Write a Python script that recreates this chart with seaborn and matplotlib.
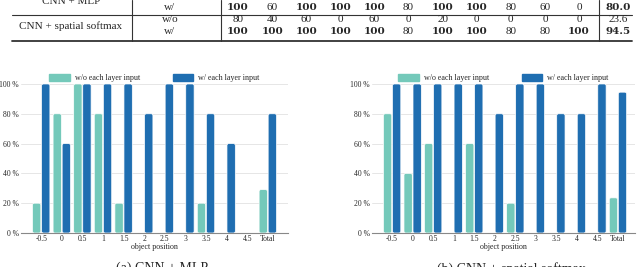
import matplotlib
matplotlib.use("Agg")
import matplotlib.pyplot as plt
import pandas as pd
import seaborn as sns
from matplotlib.lines import Line2D
from matplotlib.patches import FancyBboxPatch

# valores
posiciones = ['-0.5', '0', '0.5', '1', '1.5', '2', '2.5', '3', '3.5', '4', '4.5', 'Total']
mlp_sin = [20, 80, 100, 80, 20, 0, 0, 0, 20, 0, 0, 29.1]
mlp_con = [100, 60, 100, 100, 100, 80, 100, 100, 80, 60, 0, 80.0]
ss_sin = [80, 40, 60, 0, 60, 0, 20, 0, 0, 0, 0, 23.6]
ss_con = [100, 100, 100, 100, 100, 80, 100, 100, 80, 80, 100, 94.5]
series = ['w/o each layer input', 'w/ each layer input']
colores = ['#74c9ba', '#1f6eb1']
titulos = ['(a) CNN + MLP', '(b) CNN + spatial softmax']

sns.set_style("white")
plt.rcParams['font.family'] = ['Liberation Serif', 'DejaVu Serif']

W, H = 640, 267
fig = plt.figure(figsize=(6.4, 2.67), dpi=100)


def fx(x):
    return x / W


def fy(y):
    return 1 - y / H


""" Tabla de arriba (cortada) """
col_x = [238 + 34.1 * i for i in range(11)] + [618]
filas = [
    ('w/', mlp_con, 8, True),
    ('w/o', ss_sin, 20, False),
    ('w/', ss_con, 32, True),
]
fig.text(fx(71), fy(1), 'CNN + MLP', ha='center', va='center', fontsize=8)
fig.text(fx(71), fy(26), 'CNN + spatial softmax', ha='center', va='center', fontsize=8)
for etiqueta, valores, y, negrita in filas:
    fig.text(fx(170), fy(y), etiqueta, ha='center', va='center', fontsize=8)
    for i, v in enumerate(valores):
        texto = f'{v:.1f}' if i == 11 else f'{v:.0f}'
        bold = negrita and (v == 100 or i == 11)
        if bold:
            fig.text(fx(col_x[i]), fy(y), texto, ha='center', va='center', fontsize=7.5,
                     family='DejaVu Serif', weight='bold')
        else:
            fig.text(fx(col_x[i]), fy(y), texto, ha='center', va='center', fontsize=8)

fig.add_artist(Line2D([fx(12), fx(632)], [fy(15), fy(15)], color='#333333', lw=0.8))
fig.add_artist(Line2D([fx(12), fx(632)], [fy(41), fy(41)], color='#333333', lw=1.3))
for xv in [132, 221, 599]:
    fig.add_artist(Line2D([fx(xv), fx(xv)], [fy(0), fy(41)], color='#333333', lw=0.8))

""" Graficas de barras """
ejes = [
    fig.add_axes([fx(21), fy(233), fx(288 - 21), (233 - 81) / H]),
    fig.add_axes([fx(372), fy(233), fx(635 - 372), (233 - 81) / H]),
]
datos = [(mlp_sin, mlp_con), (ss_sin, ss_con)]

for ax, (sin, con), titulo in zip(ejes, datos, titulos):
    df = pd.DataFrame({
        'pos': posiciones * 2,
        'valor': sin + con,
        'serie': [series[0]] * len(posiciones) + [series[1]] * len(posiciones),
    })
    sns.barplot(data=df, x='pos', y='valor', hue='serie', hue_order=series,
                palette=colores, width=0.88, gap=0.08, edgecolor='white',
                linewidth=0.5, ax=ax, saturation=1)
    ax.set_ylim(0, 102)
    ax.set_xlim(-0.98, 11.0 + (0.98 if ax is ejes[0] else 0.83))
    ax.set_yticks([0, 20, 40, 60, 80, 100])
    ax.set_yticklabels([f'{t} %' for t in [0, 20, 40, 60, 80, 100]])
    ax.yaxis.grid(True, color='#e6e6e6', lw=0.7)
    ax.set_axisbelow(True)
    sns.despine(ax=ax, left=True)
    ax.spines['bottom'].set_color('#888888')
    ax.spines['bottom'].set_linewidth(0.8)
    ax.spines['bottom'].set_zorder(5)
    ax.tick_params(axis='both', length=0, labelsize=5.5, pad=1.5)
    ax.set_xlabel('object position', fontsize=5.8, labelpad=0)
    ax.set_ylabel('')

    # esquinas redondeadas en las barras
    bb = ax.get_window_extent()
    x0, x1 = ax.get_xlim()
    y0, y1 = ax.get_ylim()
    aspecto = (bb.width / (x1 - x0)) / (bb.height / (y1 - y0))
    for p in list(ax.patches):
        h = p.get_height()
        if h <= 0:
            p.remove()
            continue
        nuevo = FancyBboxPatch((p.get_x(), p.get_y()), p.get_width(), h,
                               boxstyle='round,pad=0,rounding_size=0.09',
                               mutation_aspect=aspecto, facecolor=p.get_facecolor(),
                               edgecolor='white', linewidth=0.5, zorder=2)
        p.remove()
        ax.add_patch(nuevo)

    ax.legend(handles=[plt.Rectangle((0, 0), 1, 1, color=c) for c in colores], labels=series,
              loc='lower center', bbox_to_anchor=(0.5, 0.96), ncol=2, frameon=False,
              fontsize=5.8, handlelength=2.6, handleheight=0.8, columnspacing=4,
              handletextpad=0.6, borderaxespad=0.2)
    pos = ax.get_position()
    fig.text((pos.x0 + pos.x1) / 2 + fx(8), fy(262), titulo, ha='center', va='top', fontsize=10)

plt.savefig('out.png', dpi=100)
